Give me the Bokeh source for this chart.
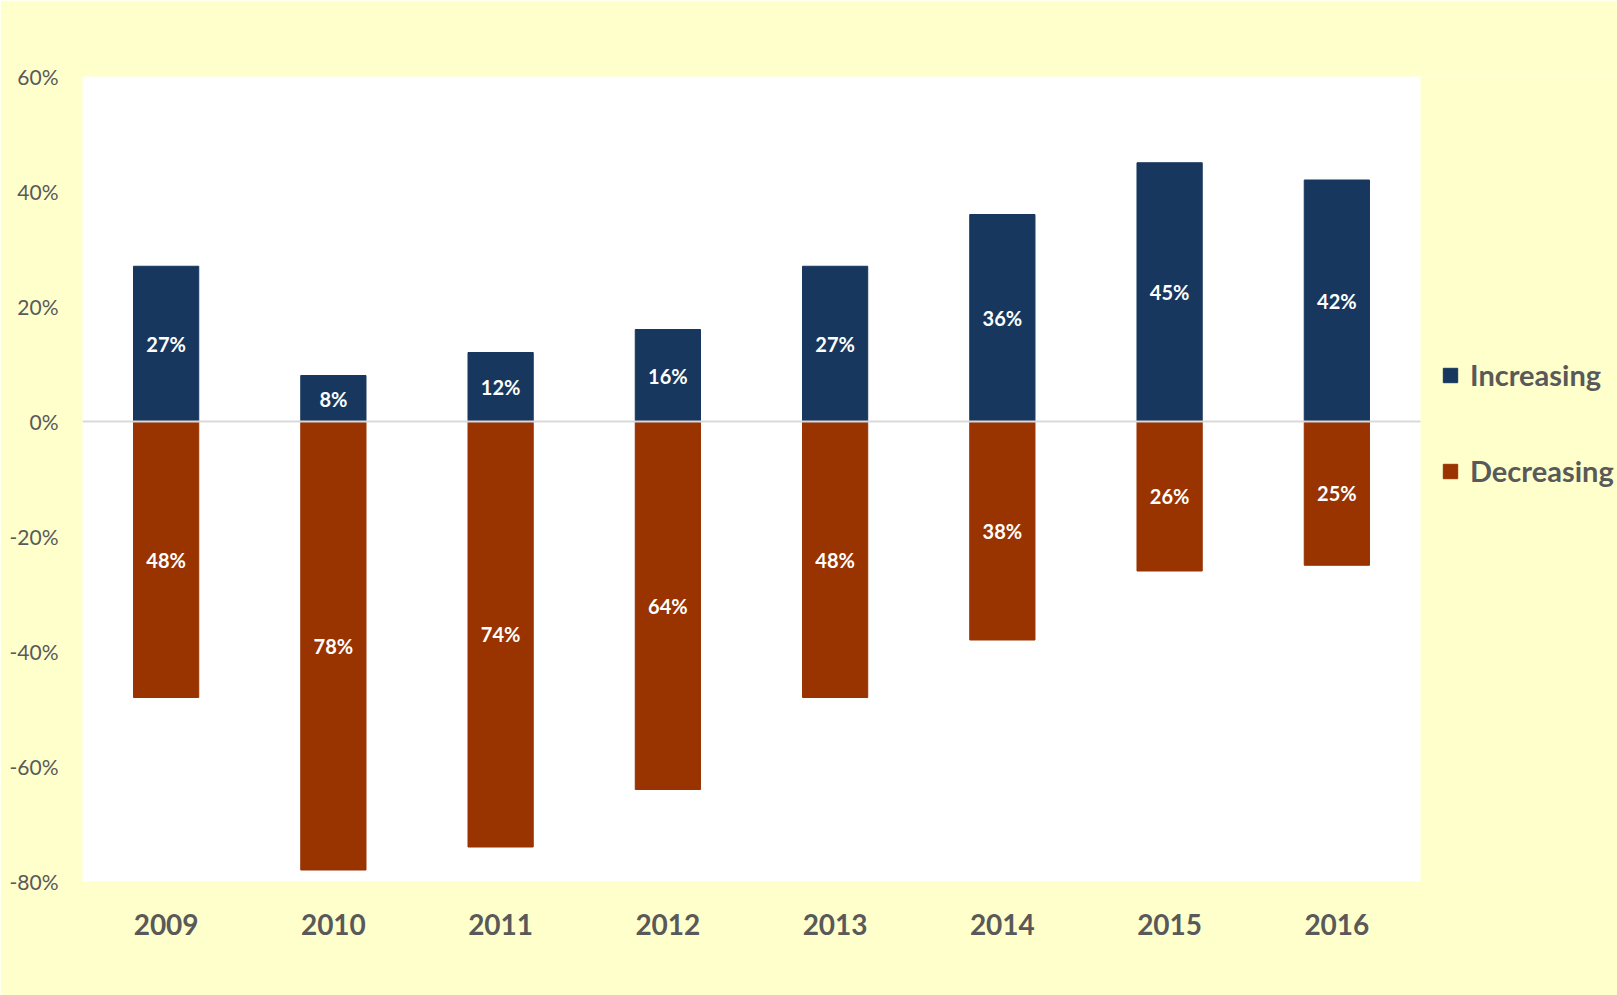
from bokeh.plotting import figure
from bokeh.models import (ColumnDataSource, BoxAnnotation, Legend, LegendItem,
                          PrintfTickFormatter, FixedTicker, Range1d)
from bokeh.core.properties import value
from bokeh.embed import file_html
from bokeh.resources import INLINE

years = ["2009", "2010", "2011", "2012", "2013", "2014", "2015", "2016"]
increasing = [27, 8, 12, 16, 27, 36, 45, 42]
decreasing = [48, 78, 74, 64, 48, 38, 26, 25]
y_ticks = [-80, -60, -40, -20, 0, 20, 40, 60]

BLUE = "#17375e"
BROWN = "#993300"
YELLOW = "#ffffcc"
GREY = "#595959"
FONT = "Lato"

n = len(years)
pos = list(range(n))  # category slots along the x axis
src = ColumnDataSource(dict(
    x=pos,
    inc=increasing,
    dec=[-d for d in decreasing],
    inc_mid=[v / 2 for v in increasing],
    dec_mid=[-d / 2 for d in decreasing],
    inc_lbl=[f"{v}%" for v in increasing],
    dec_lbl=[f"{d}%" for d in decreasing],
))

# the frame extends to the right edge so the legend can sit beside the white plot area
legend_slots = 1.178
p = figure(width=1617, height=995,
           x_range=Range1d(-0.5, n - 0.5 + legend_slots),
           y_range=Range1d(-80, 60), output_backend="svg", toolbar_location=None,
           min_border_left=82, min_border_top=76, min_border_right=0, min_border_bottom=114)
p.border_fill_color = YELLOW
p.background_fill_color = YELLOW
p.outline_line_color = None
p.xgrid.grid_line_color = None
p.ygrid.grid_line_color = None

# white plot area behind the categories
p.add_layout(BoxAnnotation(left=-0.5, right=n - 0.5, fill_color="white", fill_alpha=1,
                           line_color=None, level="underlay"))

r_inc = p.vbar(x="x", top="inc", bottom=0, width=0.39, source=src, fill_color=BLUE, line_color=BLUE)
r_dec = p.vbar(x="x", top=0, bottom="dec", width=0.39, source=src, fill_color=BROWN, line_color=BROWN)

# zero line (about 2px thick) across the plot area only
half = 0.18
p.add_layout(BoxAnnotation(left=-0.5, right=n - 0.5, top=half, bottom=-half,
                           fill_color="#d9d9d9", fill_alpha=1, line_color=None))

for col, lbl in (("inc_mid", "inc_lbl"), ("dec_mid", "dec_lbl")):
    p.text(x="x", y=col, text=lbl, source=src, text_color="white",
           text_font=value(FONT), text_font_style="bold", text_font_size="20px",
           text_align="center", text_baseline="middle")

# axes
p.yaxis.ticker = FixedTicker(ticks=y_ticks)
p.yaxis.formatter = PrintfTickFormatter(format="%d%%")
p.xaxis.ticker = FixedTicker(ticks=pos)
p.xaxis.major_label_overrides = {i: y for i, y in zip(pos, years)}
for ax in (p.xaxis[0], p.yaxis[0]):
    ax.axis_line_color = None
    ax.major_tick_line_color = None
    ax.minor_tick_line_color = None
    ax.major_label_text_color = GREY
    ax.major_label_text_font = FONT
p.yaxis.major_label_text_font_size = "21px"
p.yaxis.major_label_standoff = 18
p.xaxis.major_label_text_font_size = "28px"
p.xaxis.major_label_text_font_style = "bold"
p.xaxis.major_label_standoff = 26

legend = Legend(items=[LegendItem(label="Increasing", renderers=[r_inc]),
                       LegendItem(label="Decreasing", renderers=[r_dec])],
                location=(1359, 393), orientation="vertical",
                glyph_width=18, glyph_height=18, label_standoff=11,
                label_text_font=FONT, label_text_font_style="bold",
                label_text_font_size="29px", label_text_color=GREY,
                spacing=61, padding=0, margin=0,
                border_line_color=None, background_fill_alpha=0)
p.add_layout(legend, "center")

open("out.html", "w").write(file_html(p, INLINE))
